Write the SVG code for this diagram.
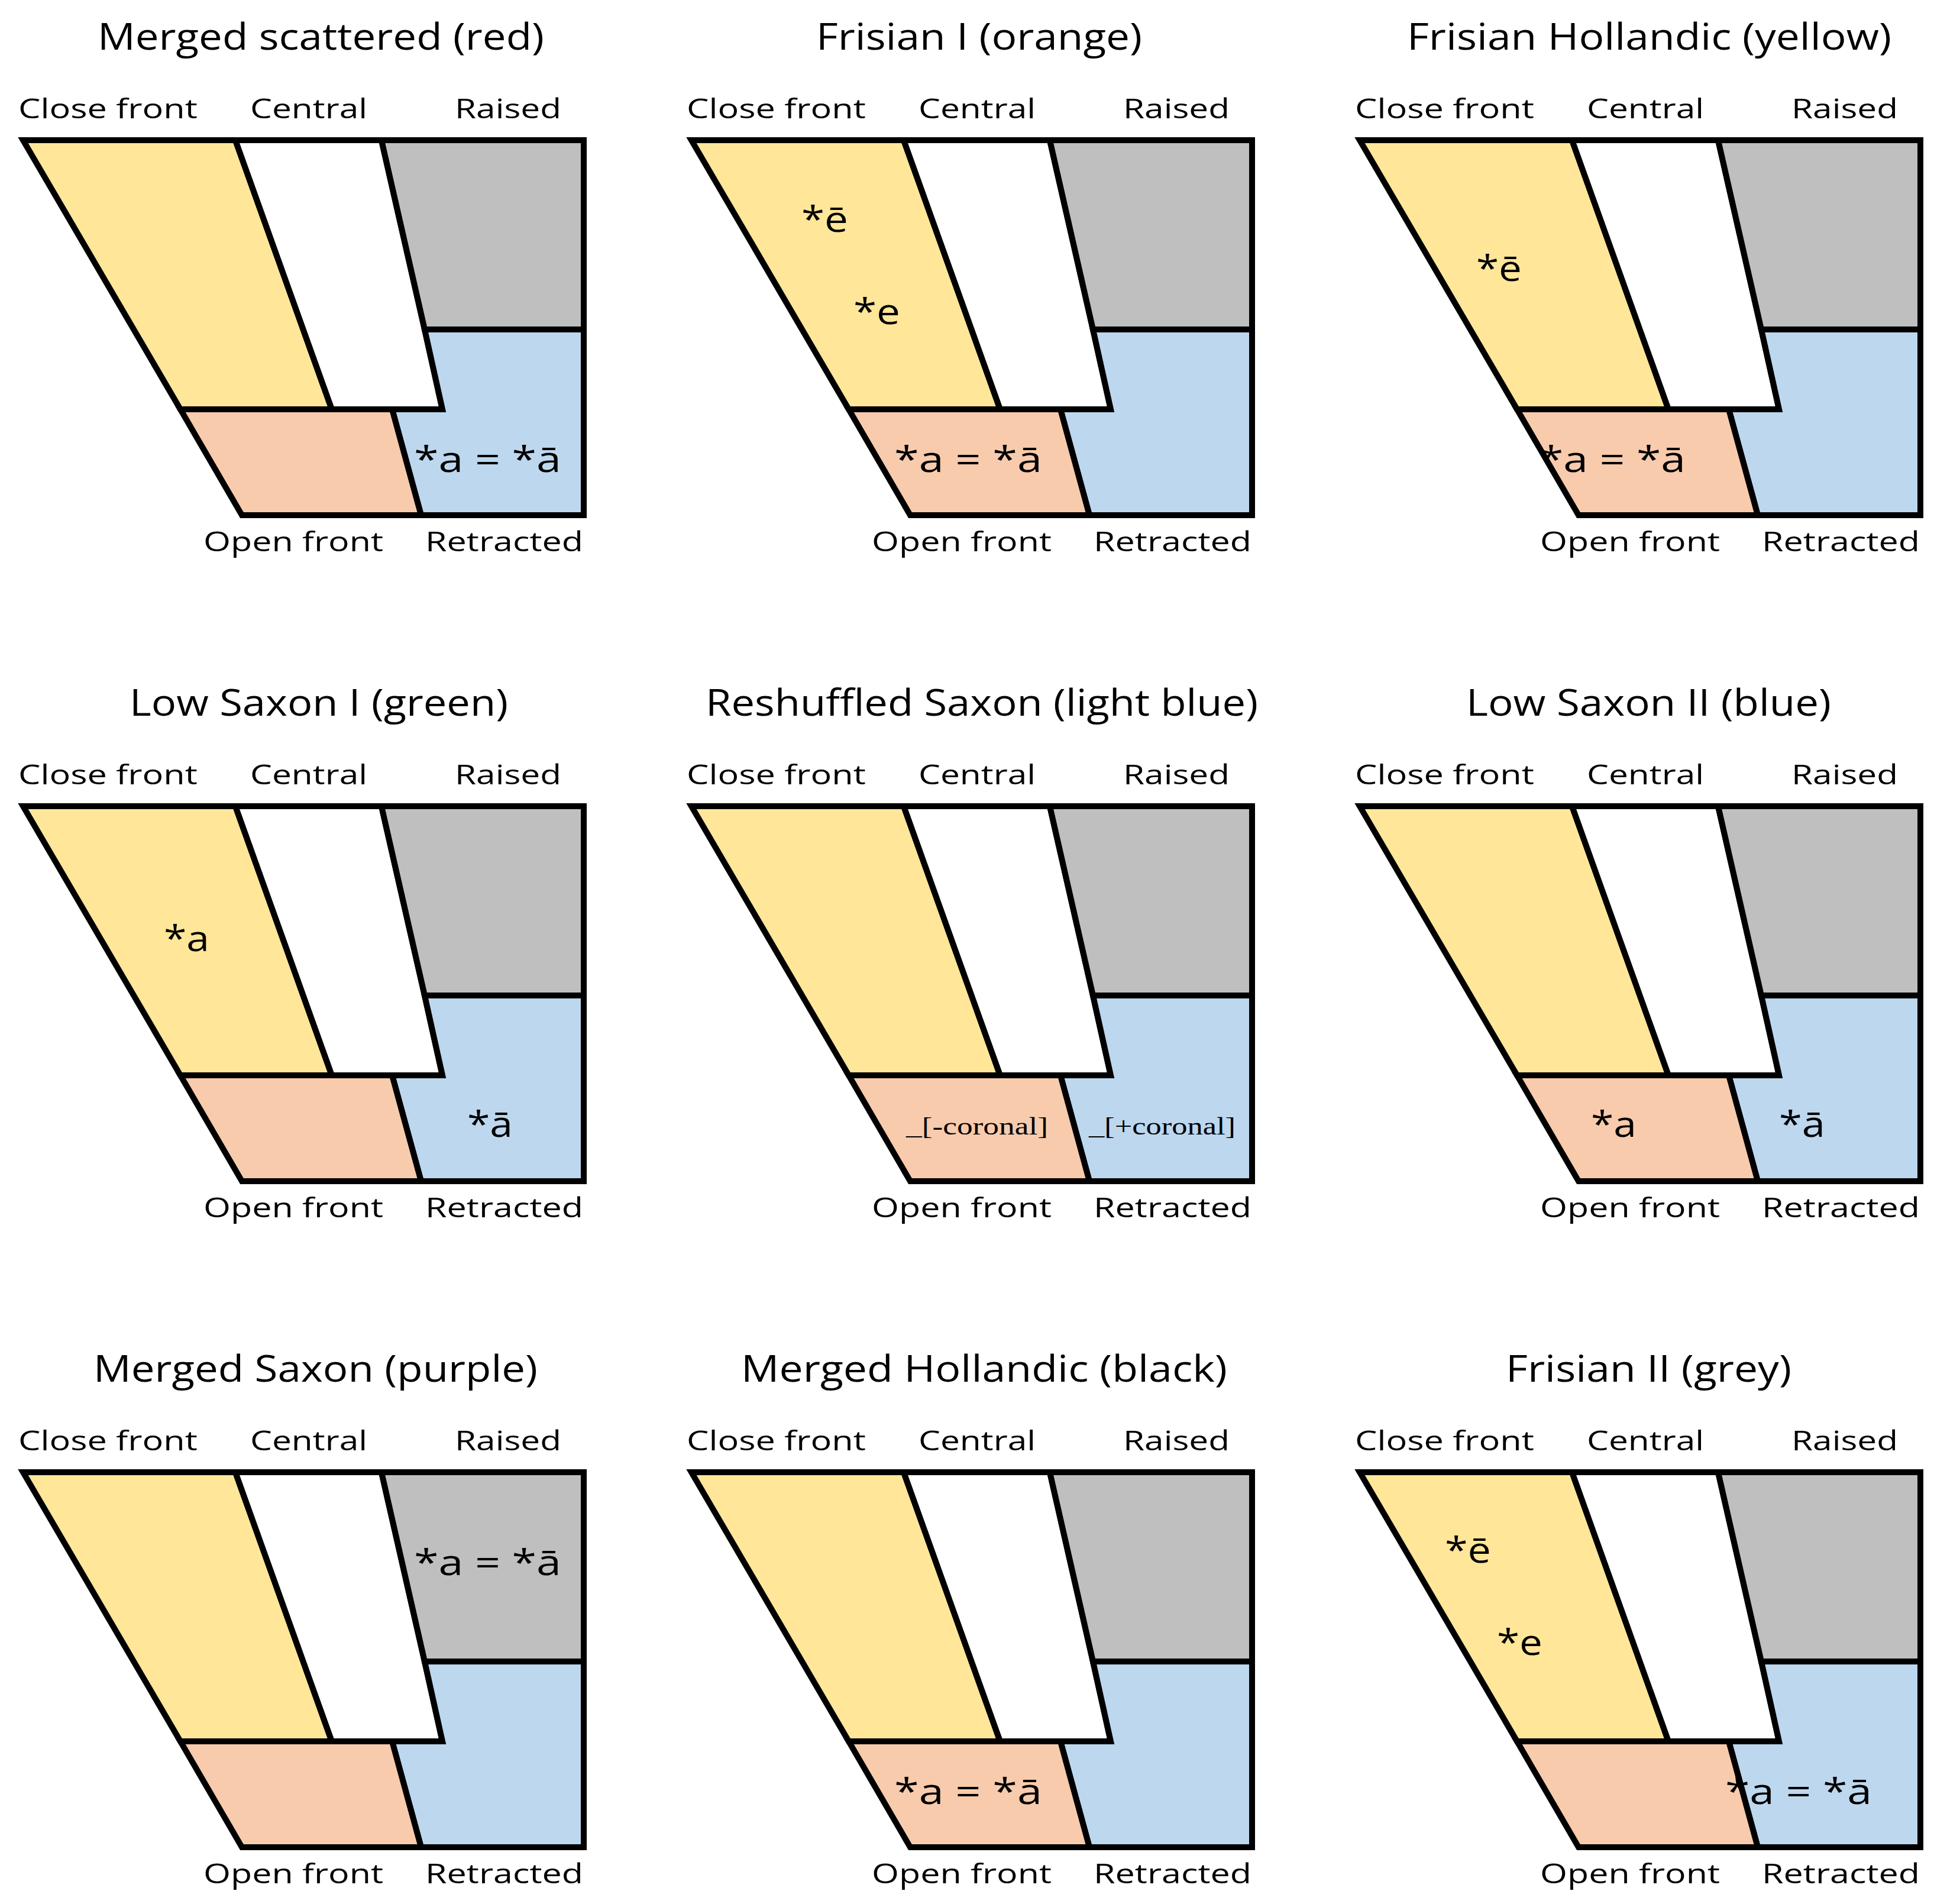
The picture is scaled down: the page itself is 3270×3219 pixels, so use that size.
<svg xmlns="http://www.w3.org/2000/svg" xmlns:xlink="http://www.w3.org/1999/xlink" width="3270" height="3219" viewBox="0 0 3270 3219">
<style>
.s{stroke:#000;stroke-width:10;stroke-linejoin:miter}
.t{font-family:"Open Sans","Liberation Sans",sans-serif;font-size:62px;fill:#000}
.l{font-family:"Open Sans","Liberation Sans",sans-serif;font-size:46px;fill:#000}
.v{font-family:"Open Sans","Liberation Sans",sans-serif;font-size:60px;fill:#000}
.c{font-family:"Liberation Serif",serif;font-size:42px;fill:#000}
</style>
<defs>
<g id="chart">
<polygon class="s" fill="#FFE699" points="39,237 398,237 561,692 305,692"/>
<polygon class="s" fill="#FFFFFF" points="398,237 645,237 718,557 748,692 561,692"/>
<polygon class="s" fill="#BFBFBF" points="645,237 987,237 987,557 718,557"/>
<polygon class="s" fill="#BDD7EE" points="718,557 987,557 987,871 712,871 663,692 748,692"/>
<polygon class="s" fill="#F8CBAD" points="305,692 663,692 712,871 409,871"/>
<text class="l" x="31" y="200" textLength="303" lengthAdjust="spacingAndGlyphs">Close front</text>
<text class="l" x="423" y="200" textLength="198" lengthAdjust="spacingAndGlyphs">Central</text>
<text class="l" x="769" y="200" textLength="180" lengthAdjust="spacingAndGlyphs">Raised</text>
<text class="l" x="344" y="932" textLength="304" lengthAdjust="spacingAndGlyphs">Open front</text>
<text class="l" x="719" y="932" textLength="267" lengthAdjust="spacingAndGlyphs">Retracted</text>
</g>
</defs>
<rect width="3270" height="3219" fill="#fff"/>
<g id="p1">
<use xlink:href="#chart"/>
<text class="t" x="165" y="84" textLength="755" lengthAdjust="spacingAndGlyphs">Merged scattered (red)</text>
<text class="v" x="700" y="798" textLength="249" lengthAdjust="spacingAndGlyphs">*a = *ā</text>
</g>
<g id="p2" transform="translate(1130,0)">
<use xlink:href="#chart"/>
<text class="t" x="250" y="84" textLength="551" lengthAdjust="spacingAndGlyphs">Frisian I (orange)</text>
<text class="v" x="225" y="392" textLength="79" lengthAdjust="spacingAndGlyphs">*ē</text>
<text class="v" x="313" y="548" textLength="79" lengthAdjust="spacingAndGlyphs">*e</text>
<text class="v" x="382" y="798" textLength="250" lengthAdjust="spacingAndGlyphs">*a = *ā</text>
</g>
<g id="p3" transform="translate(2260,0)">
<use xlink:href="#chart"/>
<text class="t" x="119" y="84" textLength="819" lengthAdjust="spacingAndGlyphs">Frisian Hollandic (yellow)</text>
<text class="v" x="236" y="475" textLength="77" lengthAdjust="spacingAndGlyphs">*ē</text>
<text class="v" x="342" y="798" textLength="248" lengthAdjust="spacingAndGlyphs">*a = *ā</text>
</g>
<g id="p4" transform="translate(0,1126)">
<use xlink:href="#chart"/>
<text class="t" x="219" y="84" textLength="640" lengthAdjust="spacingAndGlyphs">Low Saxon I (green)</text>
<text class="v" x="277" y="482" textLength="77" lengthAdjust="spacingAndGlyphs">*a</text>
<text class="v" x="790" y="796" textLength="77" lengthAdjust="spacingAndGlyphs">*ā</text>
</g>
<g id="p5" transform="translate(1130,1126)">
<use xlink:href="#chart"/>
<text class="t" x="63" y="84" textLength="934" lengthAdjust="spacingAndGlyphs">Reshuffled Saxon (light blue)</text>
<text class="c" x="402" y="792" textLength="240" lengthAdjust="spacingAndGlyphs">_[-coronal]</text>
<text class="c" x="711" y="792" textLength="248" lengthAdjust="spacingAndGlyphs">_[+coronal]</text>
</g>
<g id="p6" transform="translate(2260,1126)">
<use xlink:href="#chart"/>
<text class="t" x="219" y="84" textLength="617" lengthAdjust="spacingAndGlyphs">Low Saxon II (blue)</text>
<text class="v" x="430" y="796" textLength="77" lengthAdjust="spacingAndGlyphs">*a</text>
<text class="v" x="748" y="796" textLength="78" lengthAdjust="spacingAndGlyphs">*ā</text>
</g>
<g id="p7" transform="translate(0,2252)">
<use xlink:href="#chart"/>
<text class="t" x="158" y="84" textLength="751" lengthAdjust="spacingAndGlyphs">Merged Saxon (purple)</text>
<text class="v" x="700" y="411" textLength="249" lengthAdjust="spacingAndGlyphs">*a = *ā</text>
</g>
<g id="p8" transform="translate(1130,2252)">
<use xlink:href="#chart"/>
<text class="t" x="123" y="84" textLength="822" lengthAdjust="spacingAndGlyphs">Merged Hollandic (black)</text>
<text class="v" x="382" y="798" textLength="250" lengthAdjust="spacingAndGlyphs">*a = *ā</text>
</g>
<g id="p9" transform="translate(2260,2252)">
<use xlink:href="#chart"/>
<text class="t" x="286" y="84" textLength="483" lengthAdjust="spacingAndGlyphs">Frisian II (grey)</text>
<text class="v" x="183" y="390" textLength="78" lengthAdjust="spacingAndGlyphs">*ē</text>
<text class="v" x="271" y="546" textLength="77" lengthAdjust="spacingAndGlyphs">*e</text>
<text class="v" x="657" y="798" textLength="248" lengthAdjust="spacingAndGlyphs">*a = *ā</text>
</g>
<g id="connectors"/>
</svg>
